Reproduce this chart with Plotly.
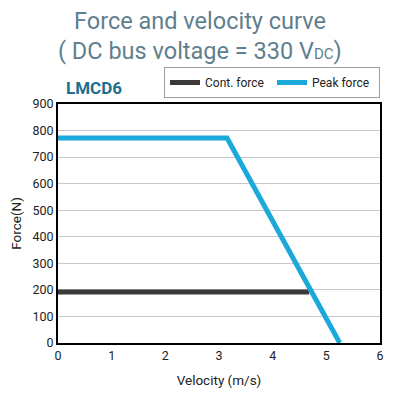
import plotly.graph_objects as go

cont_v = [0, 4.68]
cont_f = [192, 192]
peak_v = [0, 3.15, 5.25]
peak_f = [772, 772, 0]

x_ticks = [0, 1, 2, 3, 4, 5, 6]
y_ticks = [0, 100, 200, 300, 400, 500, 600, 700, 800, 900]

fig = go.Figure()
fig.add_trace(go.Scatter(x=cont_v, y=cont_f, mode="lines", name="Cont. force",
                         line=dict(color="#3c3939", width=5)))
fig.add_trace(go.Scatter(x=peak_v, y=peak_f, mode="lines", name="Peak force",
                         line=dict(color="#1ba9d9", width=5)))

font = "Roboto"
H = 239.0
# page body has an 8px default margin, so the figure is drawn 8px smaller and offset
fig.update_layout(
    width=389, height=390,
    margin=dict(l=50, r=17, t=96, b=55, autoexpand=False),
    paper_bgcolor="white", plot_bgcolor="white",
    font=dict(family=font, color="#222222", size=12),
    showlegend=True,
    legend=dict(orientation="h", x=1.0, xanchor="right", y=1.025, yanchor="bottom",
                bordercolor="#a0a0a0", borderwidth=1, bgcolor="white",
                font=dict(size=12, color="#222"), entrywidth=62, entrywidthmode="pixels",
                itemwidth=30, tracegroupgap=0),
    xaxis=dict(range=[0, 6], tickvals=x_ticks, showgrid=False, zeroline=False,
               showline=True, linecolor="black", linewidth=2, mirror=True, automargin=False,
               ticks="", title=dict(text="Velocity (m/s)", font=dict(size=13.5), standoff=14),
               tickfont=dict(size=12.5)),
    yaxis=dict(range=[0, 900], tickvals=y_ticks, showgrid=True, gridcolor="#c8c8c8",
               gridwidth=1, zeroline=False, showline=True, linecolor="black", automargin=False,
               linewidth=2, mirror=True, ticks="",
               title=dict(text="Force(N)", font=dict(size=13.5), standoff=10),
               tickfont=dict(size=12.5)),
)

fig.add_annotation(text="Force and velocity curve", xref="paper", yref="paper",
                   x=0.44, y=1 + 83 / H, showarrow=False, xanchor="center", yanchor="middle",
                   font=dict(family=font, size=23.5, color="#5f7f8e"))
fig.add_annotation(text='( DC bus voltage = 330 V<span style="font-size:15px">DC</span>)',
                   xref="paper", yref="paper",
                   x=0.44, y=1 + 53 / H, showarrow=False, xanchor="center", yanchor="middle",
                   font=dict(family=font, size=23.5, color="#5f7f8e"))
fig.add_annotation(text="<b>LMCD6</b>", xref="paper", yref="paper",
                   x=0.02, y=1 + 16 / H, showarrow=False, xanchor="left", yanchor="middle",
                   font=dict(family=font, size=17, color="#1d6f8f"))

fig.write_html("out.html")
